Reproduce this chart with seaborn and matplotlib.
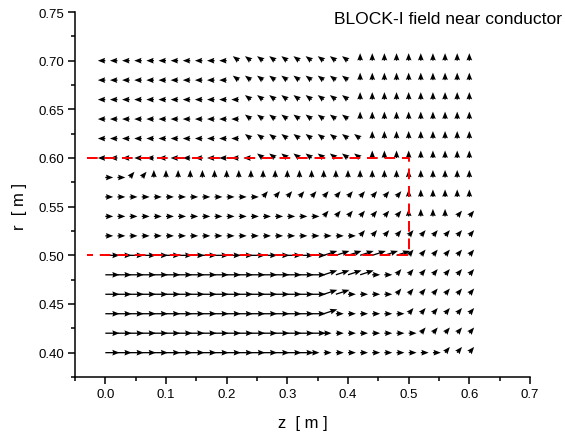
import numpy as np
import pandas as pd
import matplotlib
matplotlib.use("Agg")
import matplotlib.pyplot as plt
from matplotlib.ticker import MultipleLocator, FormatStrFormatter
import seaborn as sns

# ---- data ----
z_grid = [0.00, 0.02, 0.04, 0.06, 0.08, 0.10, 0.12, 0.14, 0.16, 0.18, 0.20,
          0.22, 0.24, 0.26, 0.28, 0.30, 0.32, 0.34, 0.36, 0.38, 0.40,
          0.42, 0.44, 0.46, 0.48, 0.50, 0.52, 0.54, 0.56, 0.58, 0.60]
r_rows = [0.70, 0.68, 0.66, 0.64, 0.62, 0.60, 0.58, 0.56,
          0.54, 0.52, 0.50, 0.48, 0.46, 0.44, 0.42, 0.40]
# direction codes per row (one char per z point)
# L left, D up-left, U up, R right, E up-right, r long right, e long up-right
row_codes = [
    "LLLLLLLLLLLDDDDDDDDDDUUUUUUUUUU",
    "LLLLLLLLLLLDDDDDDDDDDUUUUUUUUUU",
    "LLLLLLLLLLLLDDDDDDDDDUUUUUUUUUU",
    "LLLLLLLLLLLLDDDDDDDDDUUUUUUUUUU",
    "LLLLLLLLLLLLDDDDDDDDDDUUUUUUUUU",
    "LLLLLLLLLLLLLDDDDDDDDDUUUUUUUUU",
    "RREEUUUUUUUUUUUUUUUUUUUUUUUUUUU",
    "RRRRRRRRRRRRREEEEEEEEEEEEUUUUUU",
    "RRRRRRRRRRRRRRRRRREEEEEEEUUUUEE",
    "RRRRRRRRRRRRRRRRRRRRREEEEEEEEEE",
    "rrrrrrrrrrrrrrrrrreeeeeeeEEEEEE",
    "rrrrrrrrrrrrrrrrrreeeeRREEEEEEE",
    "rrrrrrrrrrrrrrrrrreeRRRREEEEEEE",
    "rrrrrrrrrrrrrrrrrreRRRRRREEEEEE",
    "rrrrrrrrrrrrrrrrrrRRRRRRRREEEEE",
    "rrrrrrrrrrrrrrrrrRRRRRRRRRRREEE",
]
code_angle = {"L": 180, "D": 143, "U": 90, "R": 0, "E": 50, "r": 0, "e": 18}
code_mag = {"L": 1.0, "D": 1.0, "U": 1.0, "R": 1.05, "E": 1.0, "r": 1.9, "e": 1.9}

# conductor outline (red dashed)
cond_z = [-0.03, 0.50, 0.50, -0.03]
cond_r = [0.60, 0.60, 0.50, 0.50]

title_text = "BLOCK-I field near conductor"

# ---- build table ----
recs = []
for r, codes in zip(r_rows, row_codes):
    for z, c in zip(z_grid, codes):
        a = np.deg2rad(code_angle[c])
        m = code_mag[c]
        recs.append((z, r, m * np.cos(a), m * np.sin(a)))
df = pd.DataFrame(recs, columns=["z", "r", "u", "v"])

sns.set_theme(style="ticks")
plt.rcParams["font.family"] = ["Liberation Sans", "DejaVu Sans"]
plt.rcParams["text.color"] = "black"
plt.rcParams["axes.labelcolor"] = "black"

fig = plt.figure(figsize=(5.65, 4.35), dpi=100)
ax = fig.add_axes([75 / 565, 1 - 378 / 435, 455 / 565, 365 / 435])

ax.quiver(df["z"], df["r"], df["u"], df["v"], angles="uv", pivot="tail",
          units="dots", scale_units="dots", scale=1 / 7.5, width=1.3,
          headwidth=4.4, headlength=5.6, headaxislength=5.0,
          color="black", zorder=2)

sns.lineplot(x=cond_z, y=cond_r, sort=False, estimator=None, ax=ax,
             color="red", lw=1.4, linestyle=(0, (5.5, 3.5)), zorder=3)

ax.set_xlim(-0.05, 0.7)
ax.set_ylim(0.375, 0.75)
ax.xaxis.set_major_locator(MultipleLocator(0.1))
ax.xaxis.set_minor_locator(MultipleLocator(0.05))
ax.yaxis.set_major_locator(MultipleLocator(0.05))
ax.yaxis.set_minor_locator(MultipleLocator(0.025))
ax.xaxis.set_major_formatter(FormatStrFormatter("%.1f"))
ax.yaxis.set_major_formatter(FormatStrFormatter("%.2f"))

for s in ["top", "right"]:
    ax.spines[s].set_visible(False)
for s in ["left", "bottom"]:
    ax.spines[s].set_linewidth(1.1)
    ax.spines[s].set_color("black")

ax.tick_params(axis="both", which="major", direction="out", length=5,
               width=1.1, colors="black", labelsize=9.5, pad=3)
ax.tick_params(axis="both", which="minor", direction="out", length=3,
               width=1.1, colors="black")

ax.set_xlabel("z  [ m ]", fontsize=12)
ax.set_ylabel("r  [ m ]", fontsize=12)
ax.xaxis.set_label_coords(0.5, -0.105)
ax.yaxis.set_label_coords(-0.105, 0.47)

fig.text(562 / 565, 1 - 20 / 435, title_text, ha="right", va="center",
         fontsize=12.6)

fig.savefig("out.png", dpi=100)
